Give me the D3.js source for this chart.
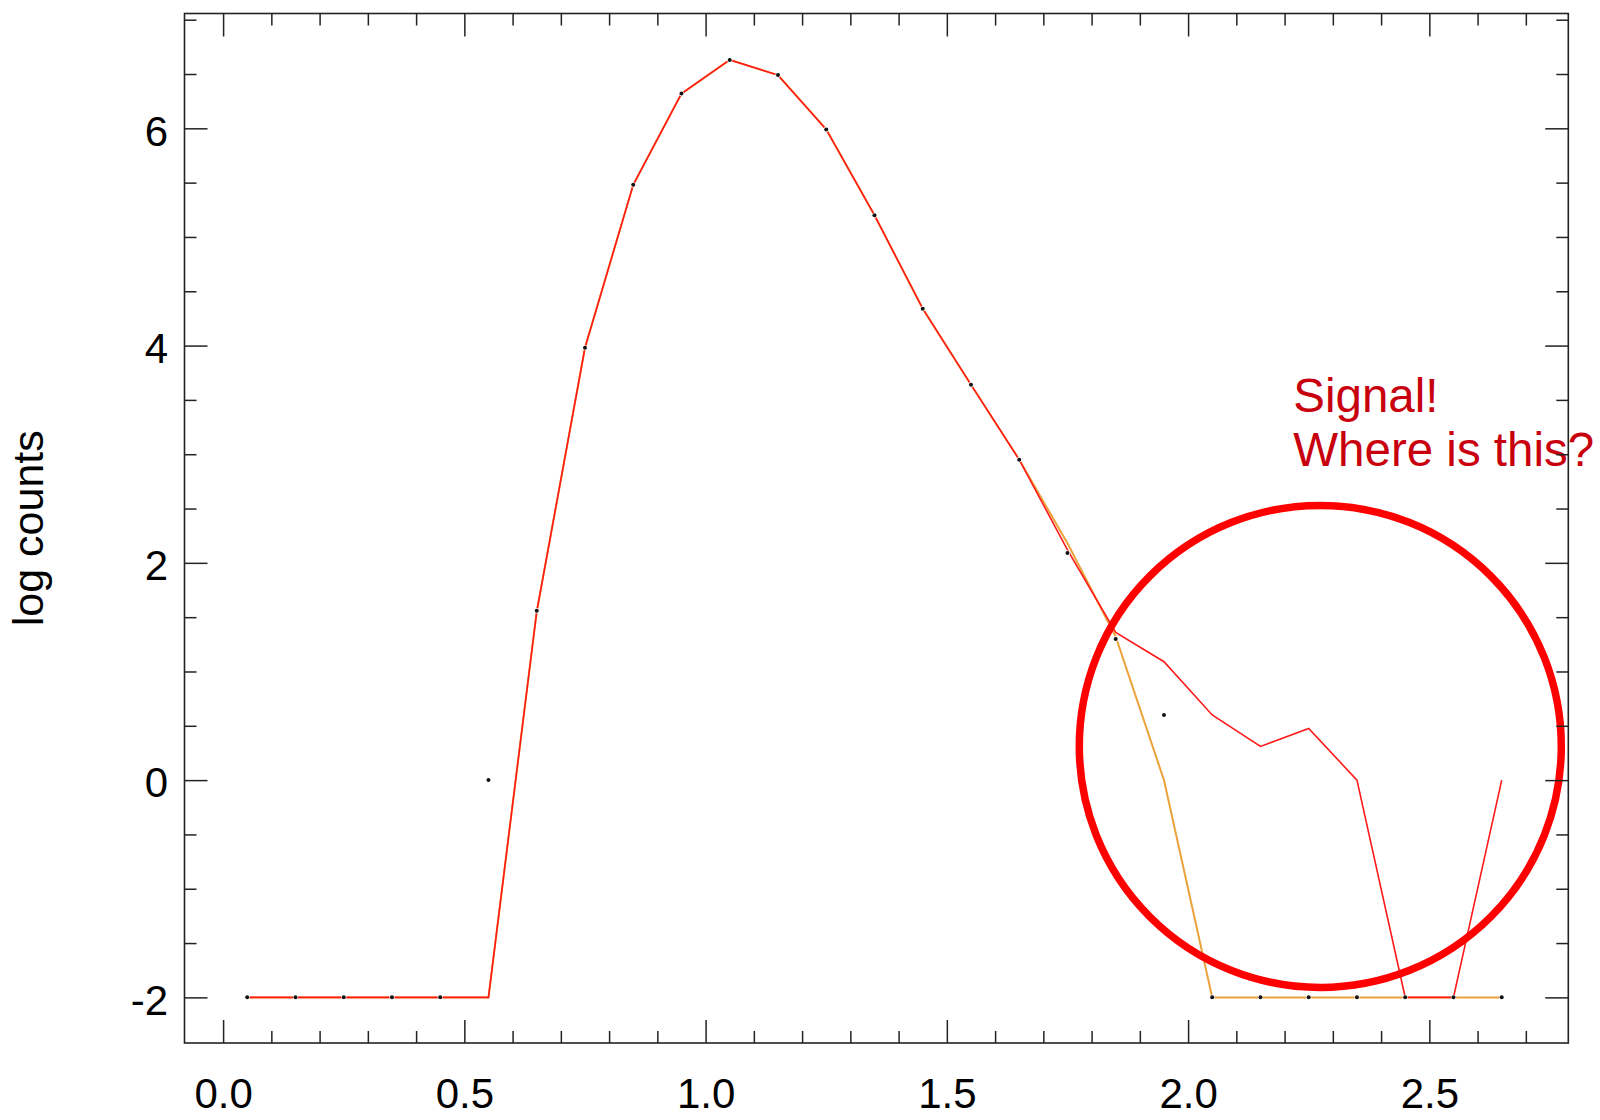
<!DOCTYPE html>
<html>
<head>
<meta charset="utf-8">
<script src="https://cdn.jsdelivr.net/npm/d3@7"></script>
<style>
  body { margin: 0; background: #fff; }
  svg { display: block; font-family: "Liberation Sans", Arial, Helvetica, sans-serif; }
</style>
</head>
<body>
<div id="chart"></div>
<script>
// bin centres
const binCentres = [0.05, 0.15, 0.25, 0.35, 0.45, 0.55, 0.65, 0.75, 0.85, 0.95, 1.05, 1.15, 1.25, 1.35,
                    1.45, 1.55, 1.65, 1.75, 1.85, 1.95, 2.05, 2.15, 2.25, 2.35, 2.45, 2.55, 2.65];

// log counts, red curve (the one with the bump)
const redCounts = [-2, -2, -2, -2, -2, -2, 1.55, 3.98, 5.48, 6.32, 6.63, 6.49, 5.99, 5.20,
                   4.34, 3.64, 2.95, 2.12, 1.36, 1.09, 0.60, 0.31, 0.475, 0.0, -2, -2, 0.0];

// log counts, orange curve
const orangeCounts = [-2, -2, -2, -2, -2, -2, 1.55, 3.98, 5.48, 6.32, 6.63, 6.49, 5.99, 5.20,
                      4.34, 3.64, 2.95, 2.18, 1.32, 0.0, -2, -2, -2, -2, -2, -2, -2];

// log counts, black points
const pointCounts = [-2, -2, -2, -2, -2, 0.0, 1.56, 3.98, 5.48, 6.32, 6.63, 6.49, 5.99, 5.20,
                     4.34, 3.64, 2.95, 2.09, 1.30, 0.60, -2, -2, -2, -2, -2, -2, -2];

const xMajorTicks = [0.0, 0.5, 1.0, 1.5, 2.0, 2.5];
const xMinorTicks = [0.1, 0.2, 0.3, 0.4, 0.6, 0.7, 0.8, 0.9, 1.1, 1.2, 1.3, 1.4, 1.6, 1.7, 1.8, 1.9,
                     2.1, 2.2, 2.3, 2.4, 2.6, 2.7];
const yMajorTicks = [-2, 0, 2, 4, 6];
const yMinorTicks = [-1.5, -1, -0.5, 0.5, 1, 1.5, 2.5, 3, 3.5, 4.5, 5, 5.5, 6.5, 7];

const noteLines = ["Signal!", "Where is this?"];

const config = {
    width: 1600,
    height: 1120,
    margin: {top: 13.5, right: 31.7, bottom: 77, left: 184.5},
    majorTick: 23,
    minorTick: 12
};

const innerW = config.width - config.margin.left - config.margin.right;
const innerH = config.height - config.margin.top - config.margin.bottom;

const svg = d3.select("#chart")
    .append("svg")
    .attr("width", config.width)
    .attr("height", config.height);

const g = svg.append("g")
    .attr("transform", `translate(${config.margin.left},${config.margin.top})`);

const x = d3.scaleLinear().domain([-0.08, 2.788]).range([0, innerW]);
const y = d3.scaleLinear().domain([-2.42, 7.057]).range([innerH, 0]);

const lineOf = vals => d3.line()
    .x((d, i) => x(binCentres[i]))
    .y(d => y(d))(vals);

// curves
g.append("path")
    .attr("d", lineOf(orangeCounts))
    .attr("fill", "none")
    .attr("stroke", "#eba23a")
    .attr("stroke-width", 2);

g.append("path")
    .attr("d", lineOf(redCounts))
    .attr("fill", "none")
    .attr("stroke", "#ff1a1a")
    .attr("stroke-width", 1.6);

// points
g.selectAll(".pt")
    .data(pointCounts)
    .enter()
    .append("circle")
    .attr("class", "pt")
    .attr("cx", (d, i) => x(binCentres[i]))
    .attr("cy", d => y(d))
    .attr("r", 2)
    .attr("fill", "#111")
    .attr("stroke", "#fff")
    .attr("stroke-width", 1.2)
    .style("paint-order", "stroke");

// annotation ring + text
g.append("circle")
    .attr("cx", x(2.274))
    .attr("cy", y(0.31))
    .attr("r", 241)
    .attr("fill", "none")
    .attr("stroke", "#ff0000")
    .attr("stroke-width", 7.5);

g.append("text")
    .attr("x", x(2.218))
    .attr("y", y(3.39))
    .attr("fill", "#c8000e")
    .style("font-size", "47.5px")
    .selectAll("tspan")
    .data(noteLines)
    .enter()
    .append("tspan")
    .attr("x", x(2.218))
    .attr("dy", (d, i) => i === 0 ? 0 : 54.5)
    .text(d => d);

// axes: ticks on all four sides, pointing inward
const styleAxis = sel => {
    sel.select(".domain").remove();
    sel.selectAll(".tick line").attr("stroke", "#222").attr("stroke-width", 1.5);
    sel.selectAll(".tick text")
        .attr("fill", "#000")
        .style("font-size", "42px")
        .style("font-family", "'Liberation Sans', Arial, Helvetica, sans-serif");
};

g.append("g")
    .attr("transform", `translate(0,${innerH})`)
    .call(d3.axisBottom(x).tickValues(xMajorTicks).tickSize(-config.majorTick)
        .tickPadding(35).tickFormat(d3.format(".1f")))
    .call(styleAxis);
g.append("g")
    .attr("transform", `translate(0,${innerH})`)
    .call(d3.axisBottom(x).tickValues(xMinorTicks).tickSize(-config.minorTick).tickFormat(""))
    .call(styleAxis);
g.append("g")
    .call(d3.axisTop(x).tickValues(xMajorTicks).tickSize(-config.majorTick).tickFormat(""))
    .call(styleAxis);
g.append("g")
    .call(d3.axisTop(x).tickValues(xMinorTicks).tickSize(-config.minorTick).tickFormat(""))
    .call(styleAxis);

g.append("g")
    .call(d3.axisLeft(y).tickValues(yMajorTicks).tickSize(-config.majorTick)
        .tickPadding(16.5).tickFormat(d => String(d)))
    .call(styleAxis)
    .call(a => a.selectAll(".tick text").attr("dy", "0.4em"));
g.append("g")
    .call(d3.axisLeft(y).tickValues(yMinorTicks).tickSize(-config.minorTick).tickFormat(""))
    .call(styleAxis);
g.append("g")
    .attr("transform", `translate(${innerW},0)`)
    .call(d3.axisRight(y).tickValues(yMajorTicks).tickSize(-config.majorTick).tickFormat(""))
    .call(styleAxis);
g.append("g")
    .attr("transform", `translate(${innerW},0)`)
    .call(d3.axisRight(y).tickValues(yMinorTicks).tickSize(-config.minorTick).tickFormat(""))
    .call(styleAxis);

// frame
g.append("rect")
    .attr("width", innerW)
    .attr("height", innerH)
    .attr("fill", "none")
    .attr("stroke", "#222")
    .attr("stroke-width", 1.6);

// y title
svg.append("text")
    .attr("transform", `translate(43,${config.margin.top + innerH / 2}) rotate(-90)`)
    .attr("text-anchor", "middle")
    .style("font-size", "43px")
    .text("log counts");
</script>
</body>
</html>
